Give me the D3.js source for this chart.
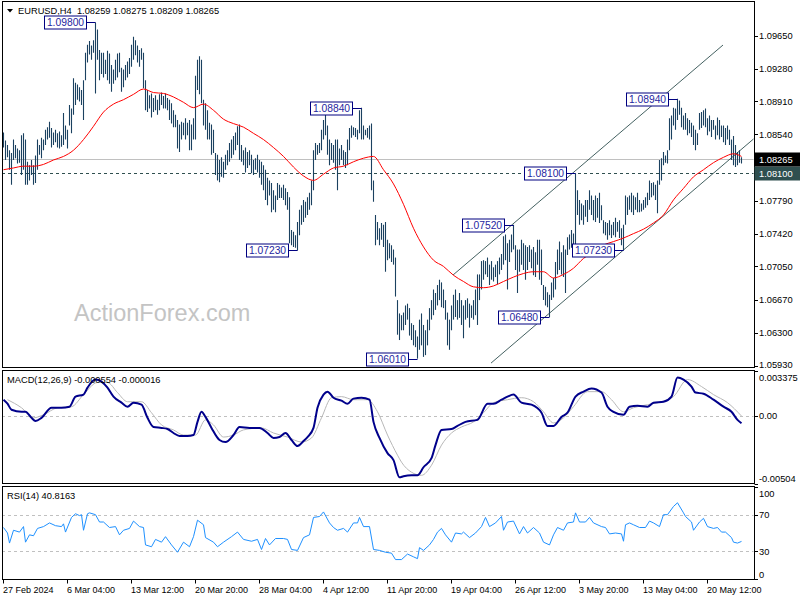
<!DOCTYPE html>
<html><head><meta charset="utf-8">
<script src="https://cdn.jsdelivr.net/npm/d3@7"></script>
<style>
html,body{margin:0;padding:0;background:#fff;}
svg{display:block;font-family:"Liberation Sans",Arial,sans-serif;}
</style></head><body>
<svg id="c" width="800" height="600"></svg>
<script>
// ---------------- DATA ----------------
const symbolName = "EURUSD,H4";
const lastOHLC = [1.08259, 1.08275, 1.08209, 1.08265];
const currentPrice = 1.08265;
const levelPrice = 1.08100;

const highs = [
1.0856,1.0847,1.0842,1.0836,1.0833,1.0848,1.0842,1.0838,1.0836,1.0853,
1.0855,1.0848,1.0823,1.0819,1.0825,1.0819,1.0830,1.0848,1.0842,1.0850,
1.0848,1.0859,1.0862,1.0868,1.0861,1.0856,1.0859,1.0855,1.0857,1.0853,
1.0878,1.0864,1.0859,1.0887,1.0883,1.0917,1.0912,1.0910,1.0907,1.0904,
1.0915,1.0946,1.0955,1.0959,1.0954,1.0960,1.0980,1.0972,1.0949,1.0946,
1.0946,1.0938,1.0948,1.0945,1.0932,1.0927,1.0938,1.0945,1.0946,1.0929,
1.0927,1.0932,1.0936,1.0940,1.0955,1.0964,1.0960,1.0954,1.0949,1.0951,
1.0946,1.0915,1.0904,1.0898,1.0900,1.0895,1.0898,1.0893,1.0899,1.0901,
1.0897,1.0900,1.0895,1.0893,1.0889,1.0881,1.0876,1.0870,1.0865,1.0868,
1.0867,1.0872,1.0867,1.0870,1.0865,1.0872,1.0920,1.0938,1.0942,1.0938,
1.0893,1.0889,1.0881,1.0867,1.0865,1.0859,1.0833,1.0831,1.0825,1.0828,
1.0823,1.0831,1.0836,1.0844,1.0848,1.0852,1.0856,1.0863,1.0865,1.0842,
1.0836,1.0839,1.0834,1.0836,1.0831,1.0825,1.0827,1.0831,1.0825,1.0823,
1.0819,1.0814,1.0805,1.0802,1.0799,1.0791,1.0785,1.0799,1.0797,1.0794,
1.0797,1.0793,1.0789,1.0783,1.0746,1.0744,1.0740,1.0755,1.0769,1.0774,
1.0780,1.0778,1.0783,1.0788,1.0802,1.0836,1.0844,1.0842,1.0844,1.0859,
1.0870,1.0878,1.0864,1.0848,1.0844,1.0842,1.0848,1.0848,1.0838,1.0842,
1.0836,1.0834,1.0848,1.0861,1.0864,1.0862,1.0861,1.0859,1.0881,1.0884,
1.0864,1.0859,1.0861,1.0864,1.0866,1.0802,1.0763,1.0755,1.0748,1.0754,
1.0752,1.0755,1.0735,1.0731,1.0729,1.0724,1.0715,1.0667,1.0652,1.0650,
1.0653,1.0661,1.0663,1.0658,1.0641,1.0639,1.0633,1.0626,1.0645,1.0652,
1.0639,1.0633,1.0645,1.0658,1.0667,1.0679,1.0675,1.0684,1.0690,1.0687,
1.0679,1.0667,1.0653,1.0645,1.0661,1.0673,1.0679,1.0667,1.0675,1.0667,
1.0661,1.0667,1.0669,1.0663,1.0661,1.0667,1.0679,1.0696,1.0696,1.0711,
1.0712,1.0711,1.0715,1.0707,1.0711,1.0704,1.0707,1.0711,1.0715,1.0719,
1.0739,1.0741,1.0731,1.0735,1.0741,1.0752,1.0729,1.0724,1.0724,1.0735,
1.0731,1.0729,1.0727,1.0729,1.0724,1.0727,1.0721,1.0735,1.0735,1.0724,
1.0684,1.0682,1.0676,1.0673,1.0687,1.0692,1.0710,1.0724,1.0733,1.0721,
1.0729,1.0724,1.0738,1.0741,1.0746,1.0742,1.0810,1.0791,1.0780,1.0776,
1.0774,1.0780,1.0780,1.0791,1.0785,1.0780,1.0785,1.0782,1.0788,1.0774,
1.0757,1.0755,1.0754,1.0757,1.0752,1.0755,1.0760,1.0755,1.0757,1.0748,
1.0752,1.0785,1.0783,1.0785,1.0788,1.0785,1.0783,1.0788,1.0780,1.0776,
1.0780,1.0783,1.0788,1.0802,1.0799,1.0800,1.0797,1.0802,1.0825,1.0827,
1.0834,1.0830,1.0836,1.0872,1.0875,1.0884,1.0883,1.0894,1.0892,1.0884,
1.0875,1.0878,1.0872,1.0870,1.0867,1.0864,1.0859,1.0855,1.0878,1.0879,
1.0881,1.0883,1.0872,1.0875,1.0870,1.0870,1.0864,1.0873,1.0870,1.0864,
1.0864,1.0861,1.0864,1.0859,1.0848,1.0852,1.0842,1.0834,1.0836,1.0828
];
const lows = [
1.0839,1.0825,1.0828,1.0814,1.0797,1.0825,1.0827,1.0821,1.0822,1.0808,
1.0814,1.0797,1.0797,1.0802,1.0808,1.0797,1.0799,1.0814,1.0831,1.0827,
1.0836,1.0842,1.0848,1.0850,1.0839,1.0842,1.0845,1.0839,1.0838,1.0840,
1.0842,1.0848,1.0838,1.0864,1.0855,1.0876,1.0887,1.0893,1.0891,1.0887,
1.0870,1.0915,1.0935,1.0944,1.0938,1.0946,1.0900,1.0938,1.0915,1.0922,
1.0918,1.0922,1.0915,1.0911,1.0902,1.0911,1.0915,1.0918,1.0924,1.0902,
1.0907,1.0915,1.0918,1.0922,1.0930,1.0938,1.0943,1.0935,1.0930,1.0938,
1.0906,1.0881,1.0879,1.0883,1.0873,1.0879,1.0881,1.0876,1.0881,1.0887,
1.0883,1.0883,1.0881,1.0870,1.0866,1.0862,1.0862,1.0838,1.0834,1.0848,
1.0853,1.0848,1.0853,1.0836,1.0836,1.0848,1.0848,1.0904,1.0899,1.0889,
1.0864,1.0859,1.0848,1.0848,1.0831,1.0833,1.0808,1.0802,1.0800,1.0806,
1.0805,1.0814,1.0819,1.0823,1.0827,1.0831,1.0836,1.0842,1.0825,1.0823,
1.0819,1.0811,1.0816,1.0819,1.0810,1.0808,1.0814,1.0811,1.0805,1.0797,
1.0791,1.0780,1.0774,1.0785,1.0766,1.0769,1.0766,1.0780,1.0782,1.0782,
1.0780,1.0774,1.0769,1.0731,1.0729,1.0727,1.0726,1.0723,1.0740,1.0752,
1.0755,1.0760,1.0763,1.0769,1.0774,1.0791,1.0825,1.0831,1.0833,1.0836,
1.0848,1.0853,1.0831,1.0819,1.0825,1.0822,1.0814,1.0791,1.0819,1.0825,
1.0819,1.0816,1.0819,1.0836,1.0850,1.0853,1.0851,1.0848,1.0855,1.0848,
1.0848,1.0853,1.0850,1.0848,1.0791,1.0778,1.0729,1.0735,1.0729,1.0735,
1.0727,1.0699,1.0712,1.0714,1.0710,1.0707,1.0671,1.0628,1.0622,1.0633,
1.0633,1.0639,1.0645,1.0627,1.0622,1.0616,1.0614,1.0601,1.0611,1.0616,
1.0603,1.0605,1.0616,1.0633,1.0645,1.0650,1.0656,1.0661,1.0667,1.0659,
1.0658,1.0645,1.0616,1.0611,1.0633,1.0645,1.0648,1.0645,1.0647,1.0639,
1.0624,1.0645,1.0647,1.0636,1.0647,1.0645,1.0650,1.0639,1.0667,1.0679,
1.0690,1.0696,1.0693,1.0684,1.0690,1.0688,1.0693,1.0685,1.0696,1.0701,
1.0707,1.0712,1.0679,1.0710,1.0721,1.0724,1.0701,1.0675,1.0699,1.0707,
1.0701,1.0690,1.0701,1.0710,1.0703,1.0695,1.0693,1.0707,1.0690,1.0684,
1.0667,1.0661,1.0659,1.0648,1.0667,1.0670,1.0679,1.0696,1.0701,1.0696,
1.0693,1.0675,1.0718,1.0724,1.0726,1.0724,1.0727,1.0763,1.0752,1.0757,
1.0752,1.0761,1.0755,1.0769,1.0763,1.0757,1.0755,1.0760,1.0754,1.0757,
1.0742,1.0740,1.0735,1.0740,1.0737,1.0740,1.0738,1.0744,1.0737,1.0729,
1.0723,1.0752,1.0763,1.0769,1.0766,1.0763,1.0769,1.0766,1.0766,1.0767,
1.0769,1.0771,1.0774,1.0780,1.0783,1.0785,1.0780,1.0765,1.0797,1.0802,
1.0819,1.0822,1.0821,1.0836,1.0848,1.0864,1.0859,1.0870,1.0876,1.0862,
1.0859,1.0859,1.0853,1.0855,1.0851,1.0842,1.0836,1.0842,1.0859,1.0861,
1.0864,1.0862,1.0853,1.0857,1.0851,1.0859,1.0848,1.0853,1.0848,1.0851,
1.0845,1.0842,1.0848,1.0842,1.0825,1.0819,1.0817,1.0819,1.0822,1.0821
];

// moving average (red), read every 5 bars + last bar
const maBars = [...d3.range(0, 366, 5), 369];
const maVals = [
1.0814,1.0816,1.0818,1.0818,1.0820,1.0825,1.0829,1.0836,1.0848,1.0863,
1.0879,1.0888,1.0893,1.0899,1.0905,1.0901,1.0900,1.0896,1.0890,1.0884,
1.0888,1.0881,1.0871,1.0866,1.0862,1.0855,1.0848,1.0839,1.0829,1.0817,
1.0807,1.0802,1.0809,1.0816,1.0818,1.0823,1.0827,1.0829,1.0814,1.0798,
1.0775,1.0748,1.0727,1.0712,1.0705,1.0695,1.0688,1.0682,1.0681,1.0683,
1.0688,1.0693,1.0697,1.0699,1.0699,1.0692,1.0696,1.0703,1.0714,1.0721,
1.0729,1.0733,1.0737,1.0742,1.0747,1.0754,1.0763,1.0780,1.0793,1.0806,
1.0814,1.0822,1.0828,1.0832,1.0829
];

// MACD(12,26,9)
const macdBars = [0,2,4,9,11,14,16,19,24,29,33,36,40,42,46,49,52,55,59,62,65,69,72,75,79,82,85,88,92,95,
97,99,101,104,108,111,115,118,123,128,132,135,138,141,144,147,150,152,155,157,160,162,165,169,172,175,179,183,185,188,
192,195,198,200,204,207,210,214,216,219,224,227,231,237,242,245,249,252,255,259,264,269,272,275,279,282,286,290,294,299,
302,305,310,313,317,322,325,330,334,337,340,344,346,350,355,360,364,367,369];
const macdVals = [0.00120,0.00090,0.00045,0.00030,0.00030,-0.00015,-0.00038,-0.00015,0.00060,0.00060,
0.00068,0.00143,0.00158,0.00210,0.00270,0.00255,0.00210,0.00143,0.00098,0.00068,
0.00098,0.00083,-0.00015,-0.00083,-0.00090,-0.00098,-0.00128,-0.00150,-0.00150,-0.00143,
-0.00045,0.00030,-0.00008,-0.00090,-0.00180,-0.00195,-0.00143,-0.00083,-0.00090,-0.00090,
-0.00128,-0.00165,-0.00158,-0.00128,-0.00180,-0.00225,-0.00188,-0.00158,-0.00090,0.00060,
0.00158,0.00180,0.00135,0.00113,0.00090,0.00128,0.00135,0.00120,-0.00045,-0.00165,
-0.00278,-0.00330,-0.00458,-0.00450,-0.00443,-0.00443,-0.00383,-0.00315,-0.00218,-0.00105,
-0.00098,-0.00075,-0.00045,-0.00030,0.00090,0.00090,0.00120,0.00143,0.00158,0.00098,
0.00083,0.00023,-0.00075,-0.00075,-0.00008,0.00023,0.00143,0.00180,0.00203,0.00173,
0.00068,0.00030,0.00008,0.00068,0.00075,0.00068,0.00098,0.00105,0.00143,0.00285,
0.00270,0.00218,0.00173,0.00165,0.00120,0.00068,0.00030,-0.00030,-0.000554];
const signalBars = [2,9,15,20,27,34,40,47,52,57,62,69,74,79,85,90,96,101,105,110,
115,120,129,135,142,149,154,159,164,169,175,182,187,192,197,199,204,209,214,219,
224,229,235,240,245,252,259,265,270,275,280,285,292,299,304,310,315,322,329,335,
342,349,355,362,369];
const signalVals = [0.00120,0.00060,-0.00015,0.00008,0.00060,0.00068,0.00158,0.00248,0.00248,0.00173,
0.00105,0.00105,0.00023,-0.00068,-0.00105,-0.00143,-0.00143,-0.00030,-0.00068,-0.00158,
-0.00143,-0.00105,-0.00090,-0.00128,-0.00158,-0.00195,-0.00165,-0.00015,0.00135,0.00143,
0.00120,0.00120,0.00030,-0.00143,-0.00293,-0.00345,-0.00420,-0.00443,-0.00368,-0.00218,
-0.00128,-0.00083,-0.00045,0.00023,0.00098,0.00120,0.00135,0.00105,0.00030,-0.00053,
-0.00015,0.00068,0.00180,0.00180,0.00120,0.00030,0.00060,0.00083,0.00105,0.00143,
0.00270,0.00218,0.00158,0.00098,-0.000016];

// RSI(14)
const rsiBars = [0,2,3,5,8,10,11,13,15,17,20,23,26,29,30,31,34,36,38,39,
40,42,43,46,48,50,53,56,58,60,63,65,68,70,71,74,76,79,81,84,
87,90,93,95,97,100,101,105,107,110,114,117,120,124,127,129,131,133,136,140,
142,144,147,150,153,155,158,160,163,165,167,170,172,175,177,178,180,183,185,188,
191,194,196,199,202,205,207,208,210,213,215,217,219,221,224,226,229,230,233,236,
239,241,243,246,249,250,252,255,258,260,262,265,268,270,273,275,277,280,282,285,
286,288,291,293,295,299,301,303,306,309,310,311,313,315,318,321,323,325,328,330,
332,335,337,340,341,344,345,348,350,352,355,357,359,361,364,365,367,369];
const rsiVals = [56,50,39,53,51,57,40,48,47,55,57,61,58,57,60,51,67,71,69,70,
53,71,72,70,62,62,56,57,48,53,55,63,57,56,37,35,43,40,46,37,
29,40,35,46,64,59,45,40,35,40,46,51,43,41,43,32,44,37,44,44,
43,32,31,45,48,67,68,73,61,56,53,55,51,61,61,67,57,57,32,31,
29,28,21,21,27,24,22,34,31,37,43,51,55,48,40,50,49,51,45,50,
57,67,57,61,68,53,62,63,49,57,50,56,50,40,37,48,56,53,61,62,
72,62,62,67,61,57,56,49,50,49,41,59,61,59,56,56,63,61,57,70,
70,79,83,72,68,62,53,62,66,57,55,56,51,51,45,40,39,40.8163];

// channel trend lines (bar index, price)
const chanUpBars = [225, 360];
const chanUpPrices = [1.06953, 1.09546];
const chanLoBars = [244, 376];
const chanLoPrices = [1.05960, 1.08501];

// swing annotations
const annBars = [46, 179, 147, 207, 255, 273, 286, 310, 337];
const annPrices = [1.09800, 1.08840, 1.07230, 1.06010, 1.07520, 1.06480, 1.08100, 1.07230, 1.08940];

// axis ticks
const priceTicks = [1.0965, 1.0928, 1.0891, 1.0854, 1.0779, 1.0742, 1.0705, 1.0667, 1.0630, 1.0593];
const macdTicks = [0.003375, 0, -0.00504];
const macdTickLabels = ["0.003375", "0.00", "-0.00504"];
const rsiTicks = [100, 70, 30, 0];
const rsiLevels = [70, 30];
const timeBars = [0, 32, 64, 96, 128, 160, 192, 224, 256, 288, 320, 352];
const timeLabels = ["27 Feb 2024","6 Mar 04:00","13 Mar 12:00","20 Mar 20:00","28 Mar 04:00","4 Apr 12:00",
  "11 Apr 20:00","19 Apr 04:00","26 Apr 12:00","3 May 20:00","13 May 04:00","20 May 12:00"];
const macdLast = [-0.000554, -0.000016];
const rsiLast = 40.8163;

// ---------------- LAYOUT ----------------
const svg = d3.select("#c");
const L = 2, R = 754;
const main = {top: 1.5, bottom: 367.5};
const mp = {top: 370.5, bottom: 483.5};
const rp = {top: 486.5, bottom: 579.5};
const FS = 9.3;
const barColor = "#1b4160";

const x = d3.scaleLinear().domain([-0.5, 375.5]).range([L, R]);
const y = d3.scaleLinear().domain([1.05916, 1.10031]).range([367, 2]);
const ym = d3.scaleLinear().domain([-0.00504, 0.003375]).range([483.5, 370.5]);
const yr = d3.scaleLinear().domain([0, 100]).range([578.8, 487.2]);

svg.append("rect").attr("width", 800).attr("height", 600).attr("fill", "#fff");

const defs = svg.append("defs");
function clip(id, t, b) {
  defs.append("clipPath").attr("id", id).append("rect")
    .attr("x", L + 0.5).attr("y", t + 0.5).attr("width", R - L - 1).attr("height", b - t - 1);
}
clip("cm", main.top, main.bottom); clip("cmacd", mp.top, mp.bottom); clip("crsi", rp.top, rp.bottom);

// ---------- main panel ----------
const gm = svg.append("g").attr("clip-path", "url(#cm)");
gm.append("text").attr("x", 74).attr("y", 321).attr("font-size", 23.5)
  .attr("fill", "#c4c4c4").text("ActionForex.com");

gm.append("line").attr("x1", L).attr("x2", R)
  .attr("y1", Math.round(y(currentPrice)) + 0.5).attr("y2", Math.round(y(currentPrice)) + 0.5)
  .attr("stroke", "#c0c0c0");
gm.append("line").attr("x1", L).attr("x2", R)
  .attr("y1", Math.round(y(levelPrice)) + 0.5).attr("y2", Math.round(y(levelPrice)) + 0.5)
  .attr("stroke", "#2f4f4f").attr("stroke-dasharray", "3,3");

const chanLine = d3.line().x(d => x(d[0])).y(d => y(d[1]));
gm.append("path").attr("d", chanLine(d3.zip(chanUpBars, chanUpPrices)))
  .attr("stroke", "#2f4f4f").attr("fill", "none").attr("stroke-width", 0.9);
gm.append("path").attr("d", chanLine(d3.zip(chanLoBars, chanLoPrices)))
  .attr("stroke", "#2f4f4f").attr("fill", "none").attr("stroke-width", 0.9);

gm.append("g").selectAll("line").data(highs).join("line")
  .attr("x1", (d, i) => x(i) + 0.5).attr("x2", (d, i) => x(i) + 0.5)
  .attr("y1", d => y(d)).attr("y2", (d, i) => y(lows[i]))
  .attr("stroke", barColor).attr("stroke-width", 1.1);

gm.append("path").attr("d", d3.line().x(d => x(d[0]) + 0.5).y(d => y(d[1])).curve(d3.curveMonotoneX)(d3.zip(maBars, maVals)))
  .attr("fill", "none").attr("stroke", "#ff0000").attr("stroke-width", 1);

// annotations
const ann = svg.append("g");
annBars.forEach((b, k) => {
  const bx = x(b) + 0.5, py = Math.round(y(annPrices[k])) + 0.5;
  const bw = 42, bh = 13, right = Math.round(bx - 10) + 0.5;
  ann.append("line").attr("x1", right).attr("x2", bx).attr("y1", py).attr("y2", py)
    .attr("stroke", "#000080");
  ann.append("rect").attr("x", right - bw).attr("y", py - bh / 2).attr("width", bw).attr("height", bh)
    .attr("fill", "#fff").attr("stroke", "#000080").attr("stroke-width", 1);
  ann.append("text").attr("x", right - bw / 2).attr("y", py + 3.8).attr("text-anchor", "middle")
    .attr("font-size", 10.3).attr("fill", "#1f1fa0").text(annPrices[k].toFixed(5));
});

// ---------- MACD panel ----------
const gmacd = svg.append("g").attr("clip-path", "url(#cmacd)");
gmacd.append("line").attr("x1", L).attr("x2", R).attr("y1", Math.round(ym(0)) + 0.5).attr("y2", Math.round(ym(0)) + 0.5)
  .attr("stroke", "#c0c0c0").attr("stroke-dasharray", "3,3");
gmacd.append("path").attr("d", d3.line().x(d => x(d[0]) + 0.5).y(d => ym(d[1])).curve(d3.curveMonotoneX)(d3.zip(signalBars, signalVals)))
  .attr("fill", "none").attr("stroke", "#b8b8b8").attr("stroke-width", 1);
gmacd.append("path").attr("d", d3.line().x(d => x(d[0]) + 0.5).y(d => ym(d[1])).curve(d3.curveMonotoneX)(d3.zip(macdBars, macdVals)))
  .attr("fill", "none").attr("stroke", "#00008b").attr("stroke-width", 2);

// ---------- RSI panel ----------
const grsi = svg.append("g").attr("clip-path", "url(#crsi)");
rsiLevels.forEach(v => {
  grsi.append("line").attr("x1", L).attr("x2", R).attr("y1", Math.round(yr(v)) + 0.5).attr("y2", Math.round(yr(v)) + 0.5)
    .attr("stroke", "#c0c0c0").attr("stroke-dasharray", "3,3");
});
grsi.append("path").attr("d", d3.line().x(d => x(d[0]) + 0.5).y(d => yr(d[1]))(d3.zip(rsiBars, rsiVals)))
  .attr("fill", "none").attr("stroke", "#1e90ff").attr("stroke-width", 1);

// ---------- frames ----------
[[main.top, main.bottom], [mp.top, mp.bottom], [rp.top, rp.bottom]].forEach(([t, b]) => {
  svg.append("rect").attr("x", L + 0.5).attr("y", t).attr("width", R - L).attr("height", b - t)
    .attr("fill", "none").attr("stroke", "#000").attr("stroke-width", 1);
});

// ---------- right axes ----------
const ax = svg.append("g").attr("font-size", FS).attr("fill", "#000");
function rightLabel(yy, txt, t, b) {
  const yc = Math.max(t + 7, Math.min(b - 5, yy));
  ax.append("line").attr("x1", R + 0.5).attr("x2", R + 4).attr("y1", Math.round(yy) + 0.5).attr("y2", Math.round(yy) + 0.5)
    .attr("stroke", "#000");
  ax.append("text").attr("x", R + 5).attr("y", yc + 3.3).text(txt);
}
priceTicks.forEach(v => rightLabel(y(v), v.toFixed(5), main.top, main.bottom + 2));
macdTicks.forEach((v, k) => rightLabel(ym(v), macdTickLabels[k], mp.top, mp.bottom));
rsiTicks.forEach(v => rightLabel(yr(v), String(v), rp.top, rp.bottom));

// price boxes on the axis
function priceBox(v, fill) {
  const yc = Math.round(y(v)) + 0.5;
  ax.append("rect").attr("x", R + 0.5).attr("y", yc - 7).attr("width", 46).attr("height", 14).attr("fill", fill);
  ax.append("text").attr("x", R + 5).attr("y", yc + 3.3).attr("fill", "#fff").text(v.toFixed(5));
}
priceBox(levelPrice, "#2f4f4f");
priceBox(currentPrice, "#000");

// ---------- time axis ----------
const tx = svg.append("g").attr("font-size", 9).attr("fill", "#000");
timeBars.forEach((b, k) => {
  const xx = Math.round(x(b)) + 0.5;
  tx.append("line").attr("x1", xx).attr("x2", xx).attr("y1", rp.bottom).attr("y2", rp.bottom + 4).attr("stroke", "#000");
  tx.append("text").attr("x", xx - 0.5).attr("y", 592.5).text(timeLabels[k]);
});

// ---------- headers ----------
svg.append("path").attr("d", "M7,9 L13,9 L10,12.5 Z").attr("fill", "#000");
svg.append("text").attr("x", 18).attr("y", 14).attr("font-size", FS).attr("fill", "#000")
  .attr("xml:space", "preserve").style("white-space", "pre")
  .text(symbolName + "  " + lastOHLC.map(v => v.toFixed(5)).join(" "));
svg.append("text").attr("x", 7).attr("y", 383).attr("font-size", FS).attr("fill", "#000")
  .text("MACD(12,26,9) " + macdLast[0].toFixed(6) + " " + macdLast[1].toFixed(6));
svg.append("text").attr("x", 7).attr("y", 499).attr("font-size", FS).attr("fill", "#000")
  .text("RSI(14) " + rsiLast.toFixed(4));
</script>
</body></html>
